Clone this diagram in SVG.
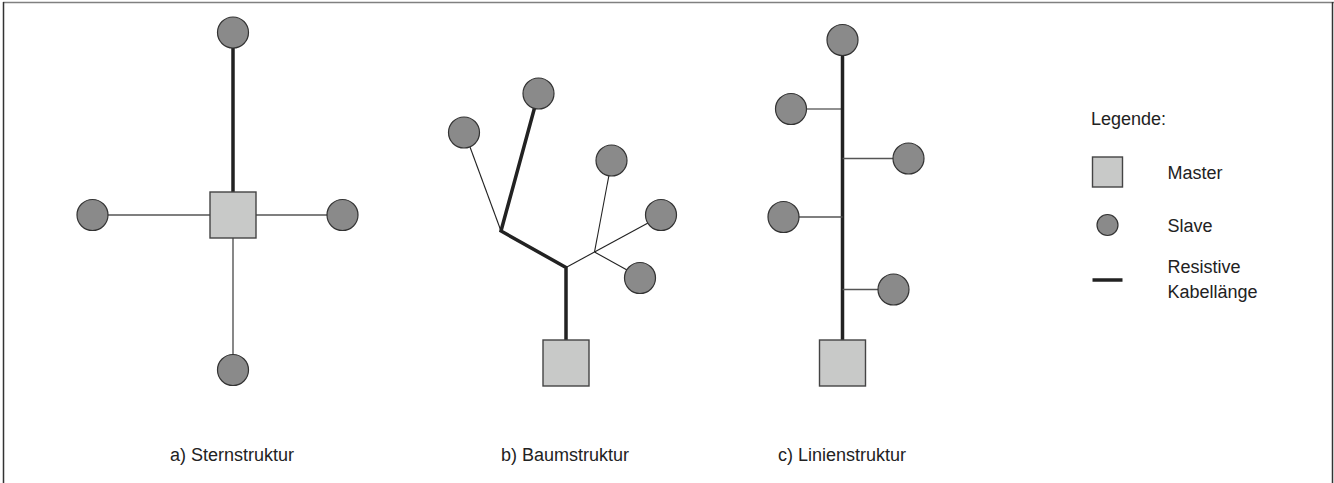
<svg xmlns="http://www.w3.org/2000/svg" width="1334" height="483" viewBox="0 0 1334 483">
<style>
.slave{fill:#8a8a8a;stroke:#333;stroke-width:1.2}
.master{fill:#c8c9c8;stroke:#444;stroke-width:1.4}
.thick{stroke:#222;stroke-width:3.5;fill:none;stroke-linejoin:miter}
.thin{stroke:#555;stroke-width:1.4;fill:none}
.thinb{stroke:#222;stroke-width:1.1;fill:none}
text{font-family:"Liberation Sans",Arial,sans-serif;font-size:18px;fill:#222}
</style>
<rect width="1334" height="483" fill="#fff"/>
<g id="frame">
<line x1="3" y1="2.5" x2="1334" y2="2.5" stroke="#808080" stroke-width="1.5"/>
<line x1="3.5" y1="2" x2="3.5" y2="483" stroke="#333" stroke-width="1.5"/>
<line x1="1332.5" y1="2" x2="1332.5" y2="483" stroke="#333" stroke-width="1.5"/>
</g>
<g id="connectors">
<!-- star -->
<line class="thick" x1="233" y1="48" x2="233" y2="192"/>
<line class="thin" x1="108" y1="215" x2="210" y2="215"/>
<line class="thin" x1="256" y1="215" x2="327" y2="215"/>
<line class="thin" x1="233" y1="238" x2="233" y2="355"/>
<!-- tree -->
<polyline class="thick" points="566,340 566,267.5 501,231 534.5,108"/>
<line class="thinb" x1="501" y1="231" x2="470" y2="147"/>
<line class="thinb" x1="566" y1="267.5" x2="594.5" y2="252"/>
<line class="thinb" x1="594.5" y1="252" x2="609" y2="175"/>
<line class="thinb" x1="594.5" y1="252" x2="648" y2="223"/>
<line class="thinb" x1="594.5" y1="252" x2="627" y2="270"/>
<!-- line -->
<line class="thick" x1="842.5" y1="55" x2="842.5" y2="340"/>
<line class="thinb" x1="806" y1="109" x2="842.5" y2="109"/>
<line class="thin" x1="842.5" y1="158.5" x2="893" y2="158.5"/>
<line class="thin" x1="798.5" y1="217" x2="842.5" y2="217"/>
<line class="thin" x1="842.5" y1="289.5" x2="878" y2="289.5"/>
</g>
<g id="star">
<g id="star-master"><rect class="master" x="210" y="192" width="46" height="46"/></g>
<g id="star-slave-top"><circle class="slave" cx="233" cy="32.5" r="15.5"/></g>
<g id="star-slave-left"><circle class="slave" cx="92.5" cy="215" r="15.5"/></g>
<g id="star-slave-right"><circle class="slave" cx="342.5" cy="215" r="15.5"/></g>
<g id="star-slave-bottom"><circle class="slave" cx="233" cy="370" r="15.5"/></g>
<g id="star-label"><text x="232" y="461" text-anchor="middle">a) Sternstruktur</text></g>
</g>
<g id="tree">
<g id="tree-master"><rect class="master" x="543" y="340" width="46" height="46"/></g>
<g id="tree-slave-1"><circle class="slave" cx="538.5" cy="93.5" r="15.5"/></g>
<g id="tree-slave-2"><circle class="slave" cx="464" cy="132.5" r="15.5"/></g>
<g id="tree-slave-3"><circle class="slave" cx="611.5" cy="160.5" r="15.5"/></g>
<g id="tree-slave-4"><circle class="slave" cx="661" cy="215" r="15.5"/></g>
<g id="tree-slave-5"><circle class="slave" cx="640" cy="278" r="15.5"/></g>
<g id="tree-label"><text x="565" y="461" text-anchor="middle">b) Baumstruktur</text></g>
</g>
<g id="line">
<g id="line-master"><rect class="master" x="819.5" y="340" width="46" height="46"/></g>
<g id="line-slave-1"><circle class="slave" cx="842.5" cy="40" r="15.5"/></g>
<g id="line-slave-2"><circle class="slave" cx="791" cy="109" r="15.5"/></g>
<g id="line-slave-3"><circle class="slave" cx="908.5" cy="158.5" r="15.5"/></g>
<g id="line-slave-4"><circle class="slave" cx="783.5" cy="217" r="15.5"/></g>
<g id="line-slave-5"><circle class="slave" cx="893.5" cy="289.5" r="15.5"/></g>
<g id="line-label"><text x="842" y="461" text-anchor="middle">c) Linienstruktur</text></g>
</g>
<g id="legend">
<text x="1091" y="125">Legende:</text>
<g id="legend-master"><rect class="master" x="1092.5" y="157" width="30" height="30"/><text x="1167.5" y="179">Master</text></g>
<g id="legend-slave"><circle class="slave" cx="1107.5" cy="225" r="10.5"/><text x="1167.5" y="232">Slave</text></g>
<g id="legend-cable"><line x1="1092.5" y1="280" x2="1122.5" y2="280" stroke="#222" stroke-width="3.5"/><text x="1167.5" y="273">Resistive</text><text x="1167.5" y="298">Kabellänge</text></g>
</g>
</svg>
